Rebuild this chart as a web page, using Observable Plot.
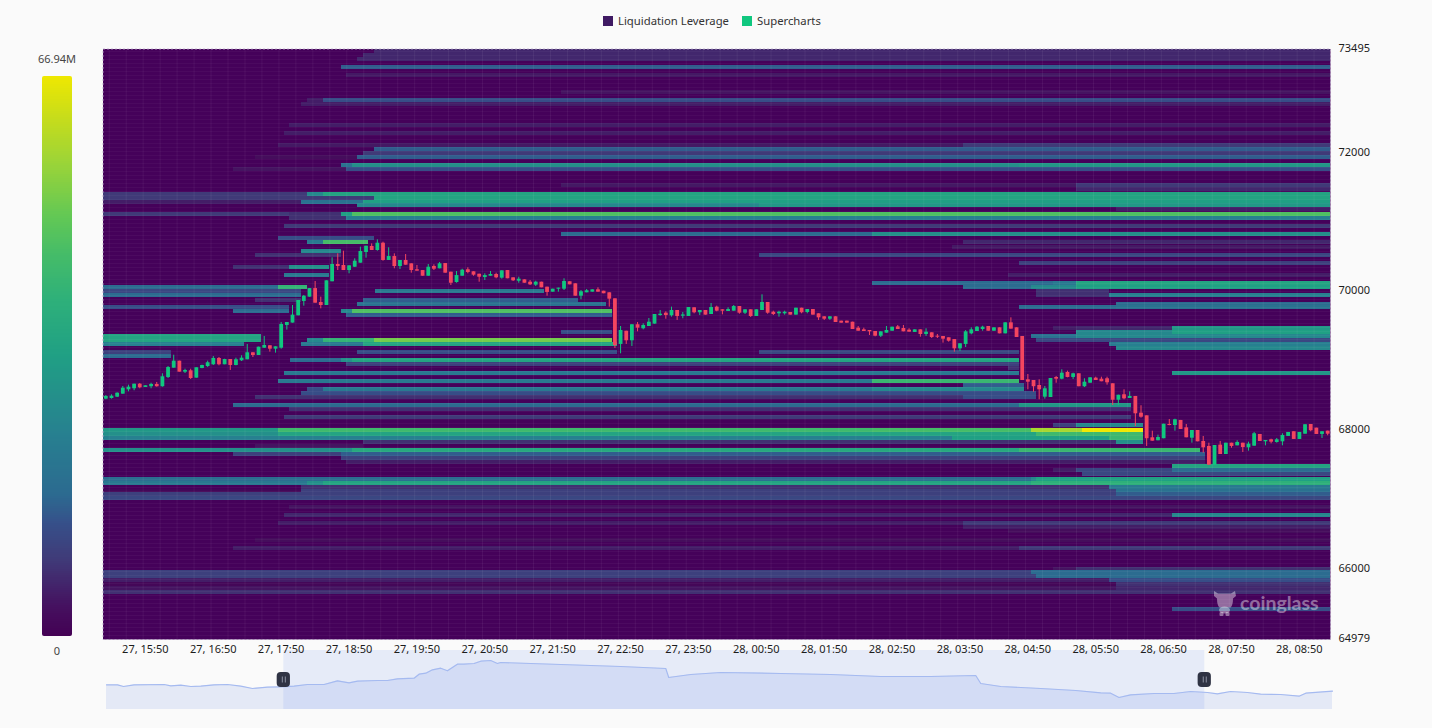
<!DOCTYPE html>
<html><head><meta charset="utf-8">
<script src="https://cdn.jsdelivr.net/npm/d3@7"></script>
<script src="https://cdn.jsdelivr.net/npm/@observablehq/plot@0.6"></script>
<style>
html,body{margin:0;padding:0;background:#fafafa;overflow:hidden}
#page{position:relative;width:1432px;height:728px;font-family:"Noto Sans",sans-serif;color:#333}
#page>*{position:absolute}
#page svg{background:transparent;display:block}
.lg{font-size:11.3px;top:13px;line-height:16px;white-space:nowrap}
.sw{width:10px;height:10px;top:16px}
.cb{font-size:11px;width:60px;left:27px;text-align:center;color:#444;line-height:14px}
#wm{left:1240px;top:591px;font:700 19.5px Lato,sans-serif;color:rgba(255,255,255,.42);line-height:24px}
#bar{border-radius:2px;overflow:hidden}
</style></head><body>
<div id="page">
  <div class="sw" style="left:603px;background:#3f1a63"></div><div class="lg" style="left:618px">Liquidation Leverage</div>
  <div class="sw" style="left:742px;background:#10c77f"></div><div class="lg" style="left:757px">Supercharts</div>
  <div class="cb" style="top:52px">66.94M</div><div class="cb" style="top:644px">0</div>
  <div id="bar" style="left:42px;top:76px"></div>
  <div id="mini" style="left:0;top:640px"></div>
  <div id="main" style="left:0;top:0"></div>
  <svg style="left:1212px;top:589px" width="26" height="28" viewBox="0 0 26 28"><g fill="rgba(255,255,255,.42)"><path d="M2 2l4 2.5h13L23 2l1 5-3 2.5q0 7-2.5 9h-11Q5 16.500 5 9.500L2 7z"/><ellipse cx="12.500" cy="21" rx="5.500" ry="3.500"/><rect x="7.500" y="23" width="4" height="4" rx="1"/><rect x="13.500" y="23" width="4" height="4" rx="1"/></g></svg>
  <div id="wm">coinglass</div>
</div>
<script>
// ---- axes (price in USD, time in minutes after 27th 00:00) ----
const priceDomain = [64979, 73495];
const timeDomain = [911.5, 1996.5];
const priceTicks = [73495, 72000, 70000, 68000, 66000, 64979];
const timeTicks = [950,1010,1070,1130,1190,1250,1310,1370,1430,1490,1550,1610,1670,1730,1790,1850,1910,1970];
const binSize = 57.7;
const maxLeverage = 66.94;
const S = timeDomain[0], E = timeDomain[1];

// ---- heat bands: [top price, start time, end time, leverage in millions] ----
const upperBands = [
[73492,1151.5,E,5],[73434,1142,E,5],[73368,1136.5,E,5],[73252,1122,E,12],[73137,1127,E,3.5],[72896,1317,E,3],
[72776,1092,1106,4],[72776,1106,E,10],[72719,1087,E,4],[72425,1076,E,4],[72309,1072,E,4],
[72136,1067,1672,3.5],[72136,1672,E,7],[72079,1151.5,E,12],[72021,1142,E,7],[71963,1046,1136.5,2],[71963,1136.5,E,12],
[71839,1122,1132,16],[71839,1132,1722,24],[71839,1722,E,26],[71782,1027,1127,3],[71782,1127,E,10],
[71551,1317,1772,3.5],[71551,1772,E,7],[71493,1772,E,5],
[71430,S,1092,7],[71430,1092,1106,22],[71430,1106,E,30],[71372,S,1151.5,7],[71372,1151.5,E,30],
[71314,S,1087,4],[71314,1087,1142,16],[71314,1142,E,28],[71262,1136.5,1492,22],[71262,1492,E,26],[71205,1807,E,4],
[71137,S,1076,7],[71137,1076,1122,6],[71137,1122,1132,28],[71137,1132,E,46],[71079,1076,1127,6],[71079,1127,E,20],
[70964,1072,E,7],[70849,1317,1592,14],[70849,1592,E,24],[70791,1067,1151.5,10],
[70733,1092,1106,18],[70733,1106,1146,44],[70733,1672,E,5],[70665,1662,E,3.5],[70603,1087,1122,22],
[70550,1046,1122,6],[70550,1492,E,9],[70435,1722,E,8],[70373,1027,1076,6],[70373,1076,1112,24],
[70253,1072,1112,18],[70253,1712,E,4]
];
const middleBands = [
[70138,1592,1752,14],[70138,1752,1772,18],[70138,1772,E,30],
[70080,S,1067,14],[70080,1067,1092,38],[70080,1672,1732,14],[70080,1732,1772,22],[70080,1772,E,28],
[70022,S,1087,9],[70022,1152,1302,18],[70022,1737,1801,6],
[69965,S,1087,14],[69965,1737,1801,6],[69965,1801,E,20],[69904,1046,1087,6],[69904,1142,1332,12],
[69844,1136.5,1356.5,16],[69844,1807,E,14],[69789,S,1076,10],[69789,1722,1807,14],[69789,1807,E,16],
[69734,1027,1076,14],[69734,1122,1132,22],[69734,1132,1362,46],[69676,1127,1362,12],
[69493,1752,1772,4],[69493,1772,1857,5],[69493,1857,E,26],[69435,1317,1362,10],[69435,1772,1857,22],[69435,1857,E,28],
[69378,S,1052,30],[69378,1732,1772,16],[69378,1772,E,22],
[69316,S,1052,30],[69316,1092,1106,22],[69316,1106,1151.5,38],[69316,1151.5,1362,52],[69316,1737,E,9],
[69262,S,1036.5,20],[69262,1087,1142,18],[69262,1142,1366,30],[69262,1801,1807,18],[69262,1807,E,20],[69209,1807,E,22],
[69147,S,972,8],[69147,1136.5,1366,10],[69147,1492,1722,9],[69089,S,972,14],
[69027,1077,1122,14],[69027,1122,1132,24],[69027,1132,1722,30],[68974,1127,1722,8],[68916,1712,1722,6],
[68844,1072,1722,18],[68844,1857,E,26],[68733,1067,1592,18],[68733,1592,1722,40],[68675,1672,1726,12],
[68613,1092,1106,10],[68613,1106,1592,18],[68613,1592,1726,22],[68556,1087,1737,10],
[68498,1046,1672,6],[68498,1672,1737,10],[68378,1027,1722,14],[68378,1722,1821,26],[68325,1076,1821,6],[68203,1072,1821,7]
];
const lowerBands = [
[68090,1752,1772,8],[68090,1772,1831,22],
[68027,S,1067,26],[68027,1067,1592,42],[68027,1592,1732,44],[68027,1732,1777,58],[68027,1777,1831,66.94],
[67969,S,1067,24],[67969,1067,1737,30],[67969,1737,1831,42],[67911,S,1662,20],[67911,1662,1801,28],[67911,1801,1831,40],
[67854,1142,1807,6],[67854,1807,1831,24],[67792,1046,1142,3],
[67730,S,1132,24],[67730,1132,1722,32],[67730,1722,1882,40],[67676,1027,1122,8],[67676,1122,1886,12],
[67618,1122,1886,8],[67561,1127,1886,4],[67496,1857,E,30],
[67438,1752,1772,4],[67438,1772,1857,9],[67438,1857,E,14],[67381,1777,E,9],
[67320,S,1732,15],[67320,1732,1737,22],[67320,1737,E,28],
[67262,S,1092,18],[67262,1092,1106,24],[67262,1106,1732,30],[67262,1732,E,36],
[67205,1087,1801,6],[67205,1801,E,18],[67147,S,1087,1],[67147,1087,1807,8],[67147,1807,E,16],
[67092,S,1807,8],[67092,1807,E,12],[67042,S,E,9],[66912,1076,E,3],
[66797,1072,1857,5],[66797,1857,E,22],[66681,1067,1672,4],[66681,1672,E,7],[66624,1672,E,4],[66566,1712,E,2],
[66441,1046,E,2],[66325,1027,1722,4],[66325,1722,E,7],[66022,1752,1772,3],[66022,1772,E,6],
[65975,S,1732,8],[65975,1732,E,14],[65917,S,1737,8],[65917,1737,E,14],[65859,S,1801,4],[65859,1801,E,10],
[65802,S,1807,1],[65802,1807,E,6],[65744,S,1807,3],[65744,1807,E,5],[65686,S,E,6],[65445,1857,E,10]
];

// ---- candles, one per five minutes from candleStart: [open, close, high, low] ----
const candleStart = 914, candleStep = 5;
const candlesA = [
[68445,68484,68498,68436],[68455,68488,68508,68445],[68474,68531,68537,68469],[68517,68603,68628,68517],[68580,68618,68647,68551],
[68595,68661,68661,68566],[68661,68609,68671,68595],[68613,68638,68638,68613],[68624,68657,68675,68595],[68657,68624,68686,68618],
[68624,68768,68811,68618],[68758,68902,68916,68743],[68892,68993,69079,68892],[68993,68834,68993,68834],[68834,68859,68877,68815],
[68854,68743,68877,68729],[68748,68898,68898,68748],[68887,68931,68935,68883],[68916,68970,68993,68902],[68941,69032,69060,68931],
[69032,68941,69046,68926],[68941,69017,69021,68941],[69017,68931,69017,68859],[68931,69013,69036,68926],[68998,69036,69071,68988],
[69013,69114,69234,69013],[69114,69075,69114,69046],[69075,69195,69195,69075],[69180,69219,69349,69176],[69215,69166,69215,69123],
[69166,69200,69200,69109],[69180,69522,69551,69166],[69508,69551,69551,69441],[69542,69657,69796,69542],[69647,69868,69868,69647],
[69854,69930,69940,69786],[69916,70040,70040,69916],[70040,69829,70142,69829],[69839,69796,69916,69748],[69796,70152,70152,69796],
[70138,70387,70484,70138],[70387,70358,70541,70300],[70373,70300,70579,70300],[70300,70368,70368,70253],[70348,70435,70469,70344],
[70406,70575,70637,70406],[70560,70651,70651,70478],[70647,70589,70685,70589],[70589,70694,70743,70579],[70694,70445,70709,70435],
[70445,70502,70628,70445],[70502,70358,70541,70325],[70358,70445,70445,70315],[70445,70377,70531,70377],[70397,70300,70397,70262]
];
const candlesB = [
[70311,70291,70373,70291],[70300,70218,70300,70218],[70218,70348,70387,70218],[70358,70319,70382,70300],[70325,70397,70416,70325],
[70401,70262,70401,70262],[70276,70117,70276,70084],[70127,70228,70286,70117],[70218,70305,70319,70218],[70311,70272,70340,70253],
[70282,70233,70282,70218],[70247,70204,70247,70132],[70199,70228,70253,70156],[70218,70243,70286,70218],[70243,70195,70262,70181],
[70190,70296,70296,70175],[70300,70181,70300,70181],[70195,70152,70195,70142],[70146,70175,70204,70117],[70166,70117,70166,70117],
[70132,70094,70156,70084],[70089,70132,70146,70070],[70132,70051,70132,70051],[70060,69984,70060,69930],[69988,70031,70031,69988],
[70031,70046,70046,69988],[70031,70142,70181,70012],[70138,70094,70138,70094],[70109,69930,70109,69930],[69930,69994,70012,69878],
[69979,70008,70027,69979],[69988,70022,70022,69988],[70022,69988,70051,69988],[70002,69965,70002,69965],[69979,69887,69979,69772],
[69892,69219,69892,69176],[69234,69435,69493,69099],[69425,69287,69425,69234],[69287,69518,69518,69205],[69518,69469,69551,69416],
[69460,69508,69532,69445],[69493,69555,69608,69493],[69527,69666,69666,69527],[69651,69670,69724,69641],[69685,69651,69705,69598],
[69647,69724,69772,69628],[69724,69637,69724,69580],[69641,69660,69695,69604],[69637,69767,69767,69637],[69763,69691,69763,69676],
[69691,69724,69724,69651],[69724,69657,69724,69657],[69666,69767,69825,69666],[69772,69714,69786,69705],[69734,69714,69734,69661]
];
const candlesC = [
[69709,69738,69763,69709],[69714,69781,69796,69714],[69781,69685,69781,69670],[69685,69734,69734,69666],[69734,69637,69734,69623],
[69637,69734,69734,69637],[69724,69839,69950,69724],[69839,69685,69839,69670],[69699,69666,69714,69651],[69676,69699,69714,69628],
[69676,69699,69714,69657],[69695,69657,69695,69657],[69657,69757,69757,69657],[69757,69691,69757,69676],[69695,69738,69738,69676],
[69738,69657,69738,69657],[69676,69618,69676,69580],[69633,69598,69633,69580],[69598,69633,69633,69580],[69633,69551,69633,69551],
[69570,69541,69570,69541],[69570,69541,69570,69541],[69555,69450,69555,69450],[69469,69425,69493,69425],[69445,69421,69469,69421],
[69435,69416,69435,69363],[69421,69353,69421,69344],[69353,69416,69416,69334],[69397,69435,69493,69397],[69425,69483,69483,69425],
[69488,69450,69508,69450],[69464,69416,69508,69416],[69440,69411,69460,69411],[69407,69445,69445,69407],[69445,69378,69445,69339],
[69378,69411,69460,69349],[69402,69334,69402,69320],[69353,69339,69378,69320],[69349,69310,69349,69253],[69330,69281,69330,69267],
[69305,69171,69305,69123],[69171,69244,69244,69133],[69234,69416,69435,69190],[69387,69445,69474,69373],[69421,69483,69493,69421],
[69450,69483,69497,69425],[69493,69425,69493,69425],[69425,69474,69474,69425],[69474,69387,69474,69387],[69387,69546,69546,69387],
[69546,69455,69618,69455],[69474,69334,69474,69334]
];
const candlesD = [
[69349,68714,69349,68714],[68724,68690,68801,68580],[68714,68624,68714,68546],[68642,68580,68724,68436],[68474,68595,68628,68445],
[68469,68743,68743,68469],[68758,68733,68772,68675],[68733,68820,68869,68724],[68830,68758,68849,68753],[68758,68811,68820,68729],
[68811,68624,68811,68624],[68624,68690,68739,68613],[68675,68753,68753,68675],[68748,68714,68762,68714],[68733,68696,68762,68696],
[68739,68681,68762,68647],[68667,68430,68667,68354],[68430,68502,68502,68354],[68508,68450,68580,68436],[68455,68484,68551,68455],
[68484,68234,68484,68051],[68243,68185,68350,68171],[68205,67874,68205,67763],[67888,67839,67983,67839],[67845,67892,67926,67845],
[67874,68084,68084,67874],[68080,68065,68152,68061],[68065,68148,68156,67983],[68138,68008,68138,68008],[68032,67888,68080,67888],
[67882,67993,67993,67810],[67993,67830,67993,67830],[67835,67744,67907,67666],[67763,67493,67810,67493],[67493,67777,67777,67493],
[67782,67647,67835,67647],[67647,67810,67810,67647],[67810,67763,67810,67738],[67772,67820,67845,67772],[67810,67748,67810,67676],
[67744,67796,67825,67695],[67767,67946,67965,67767],[67936,67835,67936,67835],[67830,67849,67849,67772],[67859,67825,67868,67801],
[67820,67859,67878,67810],[67830,67921,67946,67772],[67907,67965,67965,67907],[67975,67864,67975,67864],[67864,67965,67965,67864],
[67940,68076,68076,67940],[68080,67989,68080,67975],[68027,67936,68027,67936],[67936,67975,67975,67878],[67984,67940,67984,67917]
];

// ---- overview strip below the chart ----
const miniTime = [702.6,715.6,722.7,735.2,770.5,778.4,790.2,802,813.7,829.4,845.2,860.8,874.6,892.3,908,923.6,939.4,959,974.8,988.4,998.3,1021.9,1033.7,1045.4,1065,1070.9,1078.8,1086.7,1096.4,1104.3,1116,1123.8,1135.7,1143.5,1155.3,1163.2,1167,1237.8,1308.5,1361.5,1365,1391,1426.3,1497,1555.9,1614.8,1673.7,1726.7,1732.6,1756.2,1803.3,1844.5,1874,1885.7,1895.5,1909.2,1936.7,1960.3,1980,1999.6,2011.4,2027,2046.7,2062.4,2086,2107.6,2115.5,2147];
const miniValue = [24.7,24.7,23,24.7,25,23.7,24.3,23,23.3,24.7,25,23.3,21,22.3,22.7,23.3,25,25,28.7,26.7,28.3,29,29,30.7,31.3,35.3,36.3,39.7,41.3,38.7,45.3,45.3,46,48.3,49,46,47,45,43,41,32,35,37,36,35,33,33,34,26,23,21,19,16.7,16.3,12,14.7,16,16,18,17,15.7,18,17,15.3,15,13.3,16.3,18.3];

// ---- colour ramp ----
const rampColors = ["#440154","#45105f","#403a78","#36508a","#2c6a90","#278090","#20a084","#2eb07a","#45bc68","#62c855","#a0d535","#c5dc1c","#f0e800"];
const legendStops = [0,3.3,9,13.4,16.7,24,33.5,40,45.5,50,57,61.6,66.94];
const heatStops = [0,2.6,7,10.5,13.5,20,28,36,44,50,57,61.6,66.94];

const font = '"Noto Sans",sans-serif';
const bands = [...upperBands, ...middleBands, ...lowerBands].map(([p,a,b,v]) => ({p,a,b,v}));
const candles = [...candlesA, ...candlesB, ...candlesC, ...candlesD].map(([o,c,h,l],i) => ({t:candleStart+i*candleStep,o,c,h,l,up:c>=o}));
const up = "#10c77f", down = "#f4455f";
const clock = t => { const m = Math.round(t), d = 27+Math.floor(m/1440), r = m%1440;
  return `${d}, ${String(Math.floor(r/60)).padStart(2,"0")}:${String(r%60).padStart(2,"0")}`; };

const seamX = d3.range(917, E, 15);
const seamY = d3.range(priceDomain[0], priceDomain[1], binSize);

document.getElementById("main").append(Plot.plot({
  width:1432, height:660, marginLeft:102.5, marginRight:102, marginTop:48.5, marginBottom:21,
  style:{background:"transparent",fontFamily:font,fontSize:"11px",color:"#1c1c1c",overflow:"visible"},
  x:{domain:timeDomain,label:null}, y:{domain:priceDomain,label:null},
  color:{type:"linear",domain:heatStops,range:rampColors,clamp:true},
  marks:[
    Plot.frame({fill:"#45015a"}),
    Plot.rect(bands,{x1:"a",x2:"b",y1:d=>d.p-binSize,y2:"p",fill:"v",shapeRendering:"crispEdges"}),
    Plot.ruleX(seamX,{stroke:"#fff",strokeOpacity:.06}),
    Plot.ruleY(seamY,{stroke:"#fff",strokeOpacity:.045}),
    Plot.frame({stroke:"#b8a8c8",strokeDasharray:"2,2",strokeWidth:.8}),
    Plot.ruleX(candles,{x:"t",y1:"l",y2:"h",stroke:d=>d.up?up:down,strokeWidth:1}),
    Plot.ruleX(candles,{x:"t",y1:"o",y2:"c",stroke:d=>d.up?up:down,strokeWidth:3.8}),
    Plot.axisX({ticks:timeTicks,tickSize:0,tickPadding:6,dx:-1.2,tickFormat:clock,label:null}),
    Plot.axisY({anchor:"right",ticks:priceTicks,tickSize:0,tickPadding:8,dy:-0.6,tickFormat:d=>String(d),label:null})
  ]
}));

const brush = [{a:S,b:E}];
const miniRows = miniTime.map((t,i)=>({t,v:miniValue[i]}));
document.getElementById("mini").append(Plot.plot({
  width:1432, height:85, marginLeft:106, marginRight:100, marginTop:10, marginBottom:16,
  style:{background:"transparent",fontFamily:font,overflow:"visible"},
  x:{domain:[702.6,2147],axis:null}, y:{domain:[0,59],axis:null},
  marks:[
    Plot.areaY(miniRows,{x:"t",y:"v",fill:"#e4e9f6"}),
    Plot.rect(brush,{x1:"a",x2:"b",y1:0,y2:59,fill:"#5b86f0",fillOpacity:.12}),
    Plot.lineY(miniRows,{x:"t",y:"v",stroke:"#a5baf0",strokeWidth:1.2}),
    Plot.rect([S,E],{x1:d=>d-7.8,x2:d=>d+7.8,y1:22,y2:37,fill:"#2f3344",rx:4}),
    Plot.ruleX([S,E],{y1:26.5,y2:32.5,dx:-1.5,stroke:"#8d92a3",strokeWidth:1}),
    Plot.ruleX([S,E],{y1:26.5,y2:32.5,dx:1.5,stroke:"#8d92a3",strokeWidth:1})
  ]
}));

const legendSteps = d3.range(0, maxLeverage, 0.25);
document.getElementById("bar").append(Plot.plot({
  width:30, height:560, marginLeft:0, marginRight:0, marginTop:0, marginBottom:0,
  x:{domain:[0,1],axis:null}, y:{domain:[0,maxLeverage],axis:null},
  color:{type:"linear",domain:legendStops,range:rampColors,clamp:true},
  style:{background:"transparent"},
  marks:[Plot.rect(legendSteps,{x1:0,x2:1,y1:d=>d,y2:d=>d+.25,fill:d=>d,shapeRendering:"crispEdges"})]
}));
</script>
</body></html>
